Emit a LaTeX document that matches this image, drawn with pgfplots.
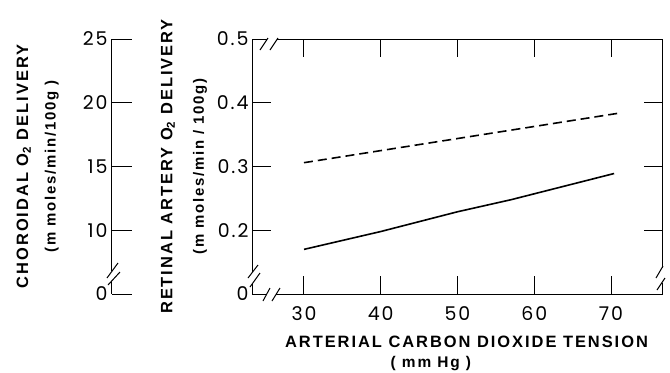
\documentclass[border=0pt]{standalone}
\usepackage{pgfplots}
\pgfplotsset{compat=1.18}
\usepackage{fontspec}
\setmainfont{Liberation Sans}
\newfontfamily\labfont[LetterSpace=12]{Liberation Sans}
\newfontfamily\tickfont[LetterSpace=10]{Poppins}
\begin{document}
\begin{tikzpicture}[x=1bp,y=1bp]
% ---------- main (retinal) axis ----------
\begin{axis}[
  at={(0,0)}, anchor=south west, scale only axis,
  width=409bp, height=255bp,
  xmin=23.36, xmax=76.64, ymin=0.1, ymax=0.5,
  xtick={30,40,50,60,70},
  xticklabels={\mbox{30},\mbox{40},\mbox{50},\mbox{60},\mbox{70}},
  ytick={0.1,0.2,0.3,0.4,0.5},
  yticklabels={\mbox{0},\mbox{0.2},\mbox{0.3},\mbox{0.4},\mbox{0.5}},
  tick align=inside, major tick length=18bp,
  axis line style={line width=1bp},
  every tick/.style={black, line width=1bp},
  tick label style={font=\tickfont\fontsize{19}{19}\selectfont},
  xticklabel style={yshift=-9bp},
  yticklabel style={xshift=-1bp},
  xlabel={\labfont\bfseries ARTERIAL CARBON DIOXIDE TENSION},
  xlabel style={at={(axis description cs:0.522,-0.188)}, anchor=center, inner sep=0pt,
    font=\fontsize{16.5}{20}\selectfont},
  ylabel={\labfont\bfseries\fontsize{16.5}{20}\selectfont RETINAL ARTERY O\textsubscript{2} DELIVERY\\[17bp]
          \labfont\bfseries\fontsize{15}{20}\selectfont (m moles/min / 100g)},
  ylabel style={at={(axis description cs:-0.112,0.5)}, anchor=south, inner sep=0pt, align=center},
  clip=false,
]
\addplot[line width=1.6bp, dash pattern=on 9bp off 5bp] coordinates {(30,0.306) (71.2,0.384)};
\addplot[line width=1.6bp] coordinates {(30,0.170) (40,0.198) (50,0.229) (57,0.248) (70.4,0.289)};
\node[font=\labfont\bfseries\fontsize{15.5}{15.5}\selectfont, inner sep=0pt] at (axis description cs:0.435,-0.2745) {( mm Hg )};
\end{axis}
% ---------- choroidal axis ----------
\begin{axis}[
  at={(-141bp,0)}, anchor=south west, scale only axis,
  width=20bp, height=255bp,
  xmin=0, xmax=1, ymin=5, ymax=25,
  hide x axis, axis y line*=left,
  ytick={5,10,15,20,25},
  yticklabels={\mbox{0},\mbox{10},\mbox{15},\mbox{20},\mbox{25}},
  tick align=inside, major tick length=20bp,
  axis line style={line width=1bp},
  every tick/.style={black, line width=1bp},
  tick label style={font=\tickfont\fontsize{19}{19}\selectfont},
  yticklabel style={xshift=-1bp},
  ylabel={\labfont\bfseries\fontsize{16.5}{20}\selectfont CHOROIDAL O\textsubscript{2} DELIVERY\\[13bp]
          \labfont\bfseries\fontsize{15}{20}\selectfont (m moles/min/100g )},
  ylabel style={at={(axis description cs:-2.65,0.5)}, anchor=south, inner sep=0pt, align=center},
  clip=false,
]
\addplot[draw=none] coordinates {(0,5) (1,25)};
\end{axis}
% ---------- axis breaks ----------
\begin{scope}[line width=1bp]
  % top-left of main
  \fill[white] (14,253) rectangle (24,257);
  \draw (7,244)--(15,256) (17,244)--(25,256);
  % left spine of main
  \fill[white] (-2,11.5) rectangle (2,22);
  \draw (-5,16)--(5,29) (-3,7)--(7,21);
  % bottom spine of main
  \fill[white] (14,-2) rectangle (23,2);
  \draw (10,-7)--(17,6) (19,-7)--(27,6);
  % right spine of main
  \fill[white] (407,11.5) rectangle (411,26);
  \draw (403,16)--(410,28) (404,4)--(412,16);
  % choroidal axis
  \fill[white] (-143,13.3) rectangle (-139,22.8);
  \draw (-146,16)--(-135,31) (-145,9)--(-133,22);
\end{scope}
\pgfresetboundingbox
\path[use as bounding box] (-253,-78) rectangle (417,294);
\end{tikzpicture}
\end{document}
